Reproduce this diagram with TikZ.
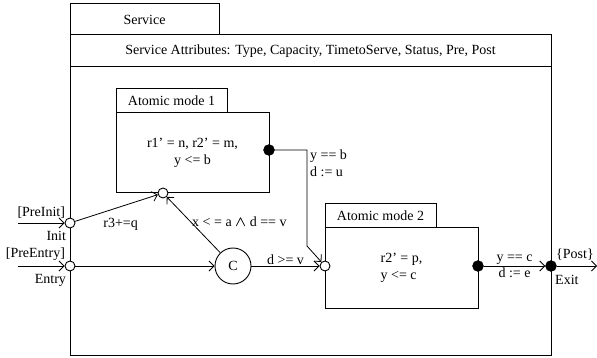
\documentclass[tikz,border=0pt]{standalone}
\usepackage{amsmath}
\usepackage{fontspec}
\setmainfont{Liberation Serif}
\usetikzlibrary{positioning,arrows.meta}

\begin{document}
\begin{tikzpicture}[x=1pt,y=-1pt,
            font=\fontsize{14}{17}\selectfont,
            box/.style={rectangle,draw,line width=1pt,inner sep=0pt},
            port/.style={circle,draw,fill=white,line width=0.9pt,minimum size=10pt,inner sep=0pt},
            dot/.style={circle,draw,fill=black,minimum size=11pt,inner sep=0pt},
            lbl/.style={inner sep=1pt,align=left},
            arrow/.style={-{Straight Barb[length=5pt,width=10pt]},line width=0.8pt}]
            \useasboundingbox (0,0) rectangle (597,358);
            \node[box,minimum width=481pt,minimum height=320pt] (svc) at (310.5,195) {};
            \node[box,minimum width=149pt,minimum height=31pt] (svctab) at (144.5,19.5) {Service};
            \node[box,minimum width=481pt,minimum height=32pt] (attr) at (310.5,51) {Service Attributes: Type, Capacity, TimetoServe, Status, Pre, Post};
            \node[box,minimum width=111pt,minimum height=24pt] (tab1) at (171.5,101) {Atomic mode 1};
            \node[box,minimum width=153pt,minimum height=80pt,align=center] (mode1) at (192.5,153) {r1’ = n, r2’ = m,\\y <= b};
            \node[box,minimum width=111pt,minimum height=24pt] (tab2) at (380.5,216) {Atomic mode 2};
            \node[box,minimum width=153pt,minimum height=80pt,align=left] (mode2) at (401.5,268) {r2’ = p,\\y <= c};
            \node[port] (init) at (70,223) {};
            \node[port] (entry) at (70,266) {};
            \node[port] (in1) at (163,193) {};
            \node[port] (in2) at (325,266) {};
            \node[dot] (out1) at (269,150) {};
            \node[dot] (out2) at (478,266) {};
            \node[dot] (exit) at (551,266) {};
            \node[circle,draw,line width=0.9pt,minimum size=36pt,inner sep=0pt] (cond) at (233,266) {C};
            \coordinate (preinit) at (18,223);
            \coordinate (preentry) at (18,266);
            \coordinate (post) at (597,266);
            \coordinate (bend) at (307,246);
            \node[lbl,anchor=south east] (preinitlbl) at (init.north west) {[PreInit]};
            \node[lbl,below left=3pt and -1pt of init.south west] (initlbl) {Init};
            \node[lbl,anchor=south east] (preentrylbl) at (entry.north west) {[PreEntry]};
            \node[lbl,below left=3pt and -1pt of entry.south west] (entrylbl) {Entry};
            \node[lbl,anchor=south west] (postlbl) at (exit.north east) {\{Post\}};
            \node[lbl,below right=4pt and -1pt of exit.south east] (exitlbl) {Exit};
            \node[lbl,anchor=north west] (guard1) at (309,149) {y == b\\d := u};
            \draw[arrow] (preinit)--(init);
            \draw[arrow] (preentry)--(entry);
            \draw[arrow] (init)--node[lbl,pos=0.55,below=10pt]{r3+=q}(in1);
            \draw[arrow] (cond)--node[lbl,pos=0.55,right]{x < = a $\boldsymbol{\wedge}$ d == v}(in1);
            \draw[arrow] (entry)--(cond);
            \draw[arrow] (cond)--node[lbl,midway,above]{d >= v}(in2);
            \draw[arrow] (out1)-|(bend)--(in2);
            \draw[arrow] (out2)--node[lbl,midway,above]{y == c}node[lbl,midway,below]{d := e}(exit);
            \draw[arrow] (exit)--(post);
        \end{tikzpicture}
\end{document}
